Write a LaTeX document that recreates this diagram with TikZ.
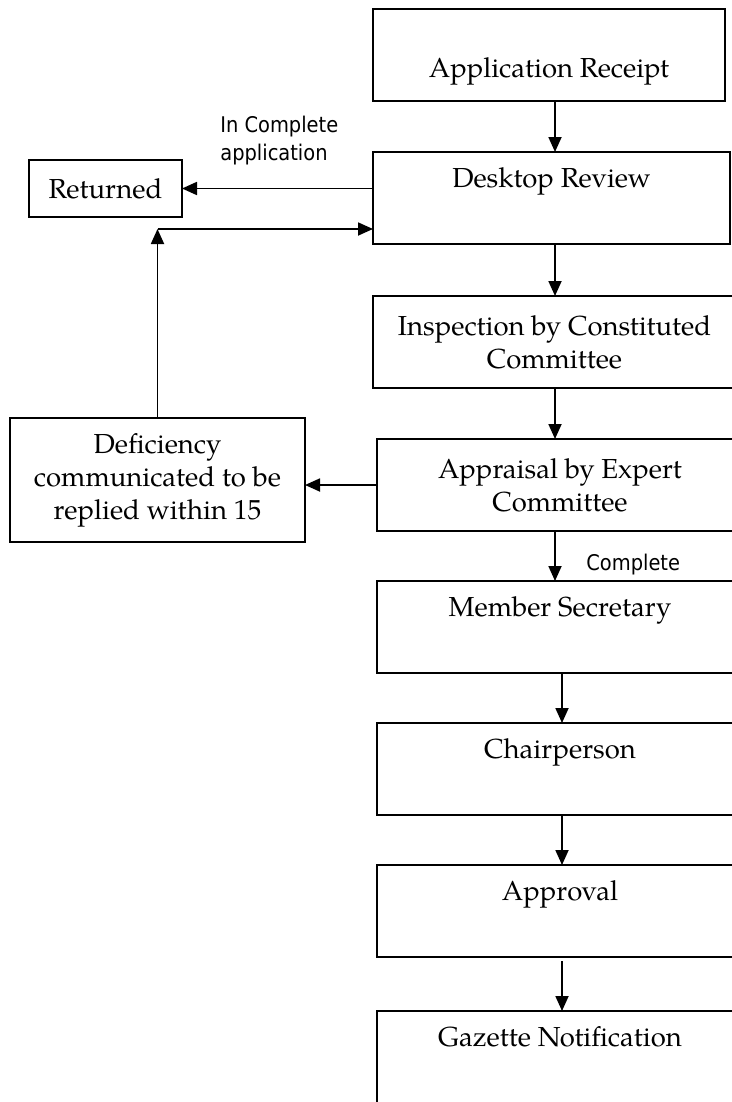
\documentclass[tikz,border=0pt]{standalone}
\usepackage{fontspec}
\setmainfont{texgyrepagella}[Extension=.otf, UprightFont=*-regular, BoldFont=*-bold, ItalicFont=*-italic, BoldItalicFont=*-bolditalic]
\newfontfamily\lblfont{DejaVu Sans Condensed}
\usepackage{tikz}
\usetikzlibrary{shapes,arrows,positioning,calc,arrows.meta}

\begin{document}
\begin{tikzpicture}[x=0.5pt, y=-0.5pt, node distance=25.5pt,
    >={Triangle[length=7.5pt,width=6.5pt]},
    box/.style={draw, line width=0.9pt, inner sep=0pt, outer sep=0pt, font=\fontsize{13.75}{16.5}\selectfont},
    topbox/.style={box, text height=17.5pt, text depth=28.5pt},
    midbox/.style={box, minimum height=46pt, align=center},
    lbl/.style={inner sep=0pt, font=\lblfont\fontsize{10.8}{14}\selectfont},
    flow/.style={line width=0.9pt, ->}]
    \useasboundingbox (0,0) rectangle (732,1102);

    % main column
    \node[box, text height=34.5pt, text depth=11.5pt, minimum width=176pt, anchor=north west] (app) at (373,9) {Application Receipt};
    \node[topbox, minimum width=178.5pt, below=of app.south west, anchor=north west] (desk) {Desktop Review};
    \node[midbox, minimum width=181.5pt, below=26pt of desk.south west, anchor=north west] (insp) {Inspection by Constituted\\Committee};
    \node[midbox, minimum width=183pt, below=of insp.south west, anchor=north west, xshift=2pt] (appr) {Appraisal by Expert\\Committee};
    \node[topbox, minimum width=183pt, below=25pt of appr.south west, anchor=north west] (memb) {Member Secretary};
    \node[topbox, minimum width=183pt, below=25pt of memb.south west, anchor=north west] (chair) {Chairperson};
    \node[topbox, minimum width=183pt, below=25pt of chair.south west, anchor=north west] (apprv) {Approval};
    \node[topbox, minimum width=183pt, below=27pt of apprv.south west, anchor=north west] (gaz) {Gazette Notification};

    % side boxes
    \node[box, minimum width=76.5pt, minimum height=28.5pt] (ret) at (105.5,188.5) {Returned};
    \node[box, minimum width=147.5pt, minimum height=62pt, align=center] (def) at (157.5,480) {Deficiency\\communicated to be\\replied within 15};

    % labels
    \node[lbl, align=left, anchor=north west] (inc) at (220,116) {In Complete\\application};
    \node[lbl, anchor=base west] (cmp) at (586,570) {Complete};

    \coordinate (colA) at (555,0);
    \coordinate (colB) at (562,0);
    \coordinate (back) at (def.north |- 0,229);

    % flow down
    \draw[flow] (app.south -| colA) -- (desk.north -| colA);
    \draw[flow] (desk.south -| colA) -- (insp.north -| colA);
    \draw[flow] (insp.south -| colA) -- (appr.north -| colA);
    \draw[flow] (appr.south -| colA) -- (memb.north -| colA);
    \draw[flow] (memb.south -| colB) -- (chair.north -| colB);
    \draw[flow] (chair.south -| colB) -- (apprv.north -| colB);
    \draw[flow, shorten <=2pt] (apprv.south -| colB) -- (gaz.north -| colB);

    % side branches
    \draw[flow] (desk.west |- ret) -- (ret.east);
    \draw[flow] (appr.west) -- (appr.west -| def.east);
    \draw[flow] (def.north) -- (back);
    \draw[flow] (back) -- (back -| desk.west);
\end{tikzpicture}
\end{document}
